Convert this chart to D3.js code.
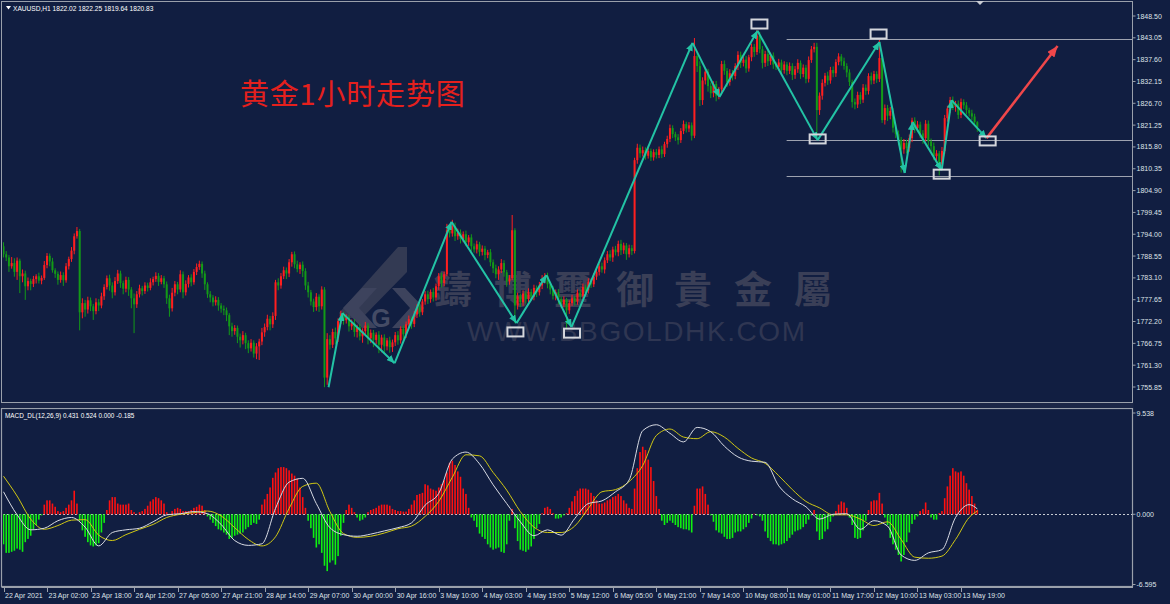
<!DOCTYPE html>
<html><head><meta charset="utf-8">
<script src="https://cdn.jsdelivr.net/npm/d3@7"></script>
<style>body{margin:0;background:#111e41;}svg{display:block}</style>
</head><body><svg id="c" width="1170" height="604"></svg>
<script>
// ---------- DATA ----------
const symbolHeader = "XAUUSD,H1  1822.02 1822.25 1819.64 1820.83";
const macdHeader = "MACD_DL(12,26,9) 0.431 0.524 0.000 -0.185";
const titleText = "黄金1小时走势图";
const firstOpen = 1791.0;
const closes = [
1789.0,1788.2,1786.0,1786.8,1784.6,1787.4,1783.5,1784.2,1781.0,1782.3,1781.6,1782.8,1783.5,1782.4,1783.1,1786.3,1788.6,1787.2,1785.0,1784.1,
1782.6,1783.8,1782.5,1786.0,1787.8,1789.9,1793.5,1794.8,1774.5,1776.8,1775.2,1777.5,1776.0,1774.8,1777.0,1776.2,1778.5,1780.8,1783.0,1781.2,
1779.5,1782.3,1784.2,1781.8,1780.4,1782.6,1780.2,1778.0,1776.5,1779.0,1780.5,1779.8,1781.2,1780.6,1782.0,1782.8,1783.6,1782.1,1783.0,1781.5,
1778.0,1775.5,1779.4,1781.5,1780.2,1784.0,1779.5,1781.6,1783.2,1782.0,1784.6,1785.8,1786.6,1784.2,1781.5,1779.0,1778.2,1777.0,1777.6,1776.2,
1775.4,1775.0,1773.8,1771.0,1769.8,1770.6,1768.4,1767.5,1768.8,1766.8,1765.5,1766.9,1764.2,1766.0,1767.2,1769.5,1770.8,1772.9,1771.5,1773.6,
1782.0,1781.2,1783.5,1785.0,1784.2,1787.0,1789.0,1786.5,1785.3,1786.4,1784.8,1781.2,1779.5,1777.2,1775.8,1778.4,1776.0,1780.2,1758.2,1767.8,
1766.4,1769.6,1768.0,1772.3,1774.0,1772.5,1773.2,1771.0,1771.8,1769.6,1770.8,1768.5,1769.8,1771.2,1768.0,1769.4,1767.6,1768.9,1766.4,1768.2,
1766.0,1767.5,1765.8,1767.0,1768.8,1767.5,1770.4,1769.0,1771.5,1772.8,1771.6,1774.0,1775.8,1774.5,1777.2,1779.0,1777.8,1779.6,1778.2,1781.0,
1783.5,1781.8,1784.0,1795.0,1794.2,1796.0,1793.5,1794.4,1792.8,1794.0,1792.0,1793.2,1791.0,1790.2,1791.5,1789.6,1790.4,1788.8,1789.5,1787.0,
1785.5,1784.0,1785.2,1786.8,1784.5,1782.2,1783.0,1795.0,1776.2,1778.5,1777.0,1779.2,1777.8,1779.6,1778.4,1780.6,1779.5,1781.2,1782.8,1783.6,
1781.5,1780.2,1778.6,1779.5,1777.8,1776.5,1777.6,1775.0,1776.8,1778.0,1777.2,1779.4,1778.6,1780.8,1780.0,1782.2,1781.5,1783.4,1784.6,1786.0,
1785.2,1787.5,1789.0,1788.2,1790.2,1789.5,1791.6,1790.0,1791.2,1789.0,1790.5,1789.8,1812.5,1815.6,1814.2,1815.0,1813.6,1814.8,1813.2,1814.5,
1813.8,1815.2,1814.0,1816.5,1817.8,1820.5,1819.0,1818.2,1817.5,1819.8,1821.5,1820.4,1821.2,1818.6,1838.5,1836.0,1827.5,1832.4,1834.6,1831.0,
1829.2,1831.5,1828.6,1830.2,1836.5,1834.8,1832.0,1834.2,1833.5,1836.0,1838.8,1836.8,1837.6,1835.4,1838.2,1840.8,1839.5,1843.6,1840.2,1836.8,
1839.0,1837.2,1838.6,1836.4,1835.8,1836.9,1835.0,1836.4,1834.8,1836.0,1833.8,1835.2,1836.8,1834.0,1835.6,1832.8,1837.5,1840.2,1840.8,1825.0,
1828.6,1831.8,1833.6,1832.4,1835.0,1834.2,1837.0,1838.4,1837.2,1836.0,1834.4,1832.0,1827.0,1826.4,1828.8,1827.6,1830.6,1829.8,1833.5,1832.4,
1834.0,1832.8,1838.0,1822.5,1825.5,1823.6,1824.8,1820.6,1819.0,1817.6,1815.2,1816.8,1815.5,1818.0,1822.4,1820.5,1821.4,1819.2,1818.0,1821.6,
1817.2,1816.0,1813.5,1814.2,1811.5,1814.8,1823.0,1825.4,1827.5,1825.8,1826.6,1823.8,1827.0,1826.2,1825.0,1824.2,1823.4,1822.0,1820.8];
const wickHi = [
1.0,0.8,0.6,1.5,1.2,0.8,0.5,1.0,0.7,0.9,0.6,0.8,0.5,0.9,0.6,1.0,0.7,0.6,0.9,0.5,
0.6,0.9,0.7,0.8,0.6,0.9,0.7,1.0,0.5,1.2,0.8,0.9,0.7,0.6,1.0,0.8,0.9,0.7,0.7,0.9,
0.8,1.0,0.9,0.7,0.6,0.8,0.7,0.6,1.2,0.8,0.9,0.6,0.8,0.7,1.0,0.6,0.9,0.7,0.8,0.6,
0.7,0.9,1.2,0.8,0.6,1.0,0.7,0.9,0.6,0.8,0.7,0.9,0.8,0.6,0.7,0.5,0.8,0.6,0.9,0.7,
0.6,0.8,0.7,0.5,0.9,0.7,0.6,0.8,1.0,0.6,0.7,0.9,0.6,0.8,0.7,1.1,0.9,1.0,0.7,0.9,
0.6,1.0,0.8,0.9,0.7,0.8,0.6,0.7,0.9,0.6,0.8,0.7,0.9,0.6,0.7,0.9,0.6,0.8,0.6,1.5,
1.0,0.8,1.1,0.7,0.9,0.6,0.8,0.7,0.9,1.0,0.6,0.8,0.7,0.9,0.6,0.8,0.7,0.6,0.9,0.7,
0.8,0.6,0.9,0.7,0.8,1.0,0.6,0.8,0.7,0.9,0.6,0.8,0.7,1.0,0.6,0.8,0.9,0.6,1.0,0.7,
0.8,0.9,0.7,1.6,1.2,1.6,0.9,1.0,0.8,0.7,0.9,0.6,0.8,0.7,0.9,0.6,0.8,0.7,0.6,0.8,
0.7,0.9,0.8,1.0,0.7,0.6,0.8,3.8,0.5,0.9,0.7,0.8,0.6,0.9,0.7,0.8,0.6,0.9,1.0,0.7,
0.8,0.6,0.9,0.7,0.8,0.6,0.9,0.5,0.7,0.9,0.6,0.8,0.7,0.9,0.6,0.8,0.7,0.9,0.8,0.7,
0.9,0.7,0.8,1.0,0.7,0.9,0.8,1.0,0.7,0.6,0.9,0.8,0.6,1.0,0.8,0.9,0.7,0.8,0.6,0.7,
0.8,0.7,0.9,0.6,0.8,0.9,0.7,0.6,0.8,0.7,0.9,0.6,0.8,0.7,4.5,1.0,1.2,0.8,0.9,0.7,
0.9,0.7,0.8,0.6,0.8,0.9,0.7,1.0,0.8,0.7,0.9,0.8,0.7,0.9,0.6,0.8,0.7,1.4,0.9,0.8,
0.8,0.9,0.7,0.8,0.6,0.9,0.7,0.8,0.6,0.9,0.7,0.8,0.9,0.6,0.8,0.7,0.9,0.8,1.0,1.0,
0.8,0.9,0.7,1.0,0.8,0.9,0.7,0.8,0.6,0.9,0.7,0.8,0.6,0.9,0.8,0.7,0.9,0.8,0.7,0.9,
0.8,0.7,4.5,0.6,0.9,0.8,1.0,0.7,0.8,0.9,0.7,1.0,0.8,0.9,0.7,0.8,0.9,0.7,0.8,0.9,
0.8,0.7,0.9,0.8,0.6,1.0,0.8,0.7,0.8,0.9,0.7,0.8,0.9,0.7,0.8,0.6,0.9,0.7,0.25];
const wickLo = [
0.8,0.9,1.4,0.6,1.2,2.0,4.2,1.5,3.4,1.0,1.6,0.8,1.1,0.7,0.9,0.5,0.8,1.2,0.6,1.0,
1.2,0.7,1.4,0.6,0.8,0.7,0.9,0.6,4.5,1.5,1.8,1.0,1.2,2.2,0.8,1.4,0.7,0.9,0.6,1.3,
1.5,0.8,0.7,1.2,1.4,0.9,1.6,2.5,7.2,0.9,0.8,1.1,0.7,0.9,0.6,0.8,0.7,1.0,0.6,0.9,
1.4,2.1,0.8,0.9,1.2,0.7,1.5,0.8,0.9,1.0,0.6,0.8,0.7,1.1,1.4,0.9,1.2,1.0,0.8,1.3,
1.0,1.2,1.5,2.2,1.4,0.9,1.6,1.8,1.0,1.5,1.2,0.8,1.0,1.4,3.4,0.9,1.1,0.8,1.5,0.9,
1.0,1.2,0.8,0.7,1.4,0.9,1.1,1.0,0.8,1.2,1.5,1.1,1.3,1.0,1.2,0.9,1.4,0.8,2.4,1.8,
1.2,0.8,1.5,0.9,0.7,1.1,0.8,1.3,0.9,1.2,1.4,1.0,1.6,0.8,1.5,1.2,1.8,1.0,2.1,1.9,
1.6,1.0,1.4,1.2,0.9,1.1,0.8,1.3,0.9,0.7,1.2,0.8,0.9,1.1,0.7,0.8,1.2,0.9,1.0,0.8,
0.9,1.1,0.8,0.5,1.0,0.8,1.2,0.9,1.1,0.8,1.0,0.9,1.2,0.8,1.0,1.1,0.9,1.3,0.8,1.0,
1.2,1.0,1.4,0.9,1.1,1.3,0.8,0.5,4.4,1.0,1.2,0.9,1.1,0.8,1.0,0.9,1.2,0.8,0.9,1.1,
1.0,1.2,0.9,1.1,1.3,1.0,0.8,4.4,0.9,0.7,1.0,0.8,0.9,0.7,1.0,0.8,0.9,0.7,0.8,0.9,
0.8,1.0,0.7,0.9,1.1,0.8,1.0,1.2,0.9,1.4,0.8,1.0,0.6,0.9,1.1,0.8,1.0,0.7,0.9,0.8,
0.9,0.8,1.0,0.7,0.9,0.8,1.0,0.9,1.1,0.7,0.8,1.0,0.9,1.2,0.6,1.5,1.5,1.2,1.0,1.4,
1.2,1.0,1.4,0.9,0.8,1.0,1.2,0.9,1.1,0.8,1.0,1.3,0.9,1.1,0.8,1.0,1.2,0.7,1.0,1.4,
1.0,1.2,0.9,1.1,0.8,1.0,1.2,0.9,1.1,0.8,1.3,1.0,0.9,1.2,0.8,1.1,0.9,0.7,0.8,6.7,
1.2,1.0,0.9,1.1,0.8,1.0,0.9,0.8,1.1,0.9,1.2,1.0,1.4,1.2,0.9,1.1,0.8,1.0,0.9,1.0,
0.9,1.0,0.8,0.7,1.1,1.3,0.9,1.2,1.0,1.4,5.8,1.1,1.3,0.9,1.0,1.2,0.8,1.1,1.4,0.9,
1.1,1.3,1.0,1.2,2.8,1.0,0.8,0.9,1.1,0.8,1.2,1.0,0.8,0.9,1.1,0.8,0.9,1.0,1.2];
const macdHist = [
-2.8,-3.6,-3.6,-3.5,-3.4,-3.2,-3.3,-3.5,-2.6,-2.3,-2.0,-1.4,-1.0,-0.5,-0.1,0.9,1.3,1.3,1.0,0.7,
0.3,0.2,0.3,0.6,0.9,1.3,2.2,1.0,-0.6,-1.5,-2.1,-2.6,-2.9,-3.0,-2.9,-2.7,-1.7,-0.8,0.4,1.3,
1.6,1.6,1.0,0.9,0.9,0.9,1.0,0.4,0.2,0.05,0.2,0.3,0.5,0.8,1.2,1.4,1.6,1.5,1.3,1.0,
0.2,0.05,0.3,0.5,0.6,0.5,0.3,0.3,0.3,0.4,0.6,0.7,0.9,0.8,0.4,-0.2,-0.5,-0.8,-1.1,-1.4,
-1.5,-1.7,-1.9,-2.3,-2.2,-2.0,-1.9,-1.8,-1.7,-1.4,-1.2,-1.0,-0.8,-0.9,-0.5,0.9,1.4,1.9,2.5,3.4,
3.9,4.3,4.4,4.4,4.3,4.1,3.8,3.6,3.3,2.5,1.6,0.6,-0.6,-1.3,-2.2,-3.1,-2.8,-3.6,-4.8,-5.3,
-4.5,-4.3,-4.7,-3.9,-2.0,-0.8,0.4,0.9,0.6,0.2,-0.3,-0.6,-0.5,-0.3,0.2,0.4,0.5,0.6,0.8,0.9,
0.9,0.9,0.8,0.5,0.4,0.3,0.3,0.25,0.25,0.5,0.9,1.3,1.8,1.9,2.0,2.8,2.7,2.4,2.3,2.2,
2.5,2.8,3.2,3.9,4.8,5.0,4.6,4.0,3.5,2.4,1.9,0.6,-0.3,-0.6,-1.2,-1.8,-2.1,-2.3,-2.8,-3.1,
-3.3,-3.2,-3.1,-3.5,-3.6,-2.8,-0.6,0.5,-1.3,-2.5,-3.3,-3.4,-3.5,-3.3,-3.0,-2.3,-1.3,-0.9,0.1,0.6,
0.7,0.5,0.1,-0.4,-0.4,-0.3,-0.1,0.1,0.6,1.2,1.7,2.2,2.4,2.4,2.4,2.3,2.0,1.7,1.3,1.0,
1.0,1.1,1.3,1.4,1.6,1.7,1.9,1.7,1.3,1.0,0.6,0.5,2.4,4.3,5.8,6.3,6.0,5.1,4.4,3.1,
1.7,0.5,-0.6,-1.0,-0.8,-0.6,-0.8,-1.0,-1.2,-1.3,-1.4,-1.4,-1.5,-1.7,0.8,2.4,2.4,2.6,1.9,0.9,
-0.1,-0.7,-1.5,-1.7,-1.8,-2.1,-2.3,-2.3,-2.2,-1.7,-1.6,-1.6,-1.4,-1.2,-0.8,-0.4,0.05,-0.1,-0.2,-0.6,
-1.6,-2.2,-2.5,-2.8,-2.8,-2.9,-2.8,-2.7,-2.5,-2.2,-1.9,-1.6,-1.5,-1.4,-1.2,-0.9,-0.5,-0.1,0.4,-1.6,
-2.4,-2.3,-1.6,-1.4,-0.7,-0.2,0.3,0.9,1.2,1.1,0.6,-0.3,-1.0,-2.2,-2.3,-2.2,-1.5,-0.6,0.4,1.2,
1.3,1.3,2.0,1.0,-0.3,-1.0,-2.2,-2.8,-3.3,-3.8,-4.4,-3.8,-2.6,-1.7,-0.9,-0.5,-0.2,0.3,0.5,1.1,
0.4,-0.3,-0.5,-0.5,0.1,0.3,1.5,2.6,3.6,4.3,4.0,3.9,4.0,3.6,2.9,2.3,1.7,1.0,0.4];
const lineBars = [0,5,10,15,20,25,30,35,40,45,50,55,60,65,70,75,80,85,90,95,100,105,110,115,120,125,130,135,140,145,150,155,160,165,170,175,180,185,190,195,200,205,210,215,220,225,230,235,240,245,250,255,260,265,270,275,280,285,290,295,300,305,310,315,320,325,330,335,340,345,350,355,358];
const macdWhite = [2.1,-0.05,-1.45,-1.3,-0.6,-0.3,-1.2,-2.95,-1.7,-1.45,-1.3,-0.7,-0.05,0.05,0.25,0.05,-0.95,-2.45,-2.9,-2.75,0.55,3.0,3.35,1.0,-1.25,-1.9,-2.05,-1.85,-1.55,-1.25,-0.8,0.85,1.95,5.15,5.8,4.7,2.75,1.0,-0.7,-2.0,-1.45,-1.95,-0.4,1.0,1.25,2.1,3.2,7.8,8.35,7.55,6.75,8.1,7.7,6.35,5.35,4.95,4.85,2.65,1.45,0.7,-0.45,0,0.05,-1.4,-0.6,-1.1,-3.8,-4.3,-3.6,-3.3,-0.3,0.9,0.5];
const macdYellow = [3.55,1.7,-0.45,-1.4,-1.05,-0.55,-0.5,-1.95,-2.45,-1.9,-1.4,-0.95,-0.3,0,0.15,0.3,-0.15,-1.25,-2.35,-2.95,-2.1,0.55,2.6,2.9,0.25,-1.8,-2.15,-2.05,-1.75,-1.35,-1.1,-0.2,1.2,3.45,5.55,5.45,3.9,2.25,0.25,-1.2,-1.7,-1.7,-1.1,0.55,2.1,2.3,3.05,4.55,7.35,7.95,7.2,7.05,7.7,7.2,6.15,5.25,4.75,3.6,2.3,1.2,0.6,-0.05,-0.05,-0.45,-1.05,-0.7,-2.35,-4.0,-4.1,-3.9,-2.35,-0.3,0.3];
const zzBar = [119.5,124.6,143.8,164.7,188.6,199.6,208.8,253.3,263.2,277.2,299.3,322,331.3,334.2,344.9,348.5,361.4];
const zzPrice = [1755.8,1774.3,1761.8,1797.1,1771.8,1783.8,1770.8,1841.8,1828.3,1844.8,1817.5,1842.0,1809.3,1822.0,1810.0,1827.5,1818.0];
const forecastBar = [361.4,387.5];
const forecastPrice = [1818.0,1841.0];
const boxBar = [188.2,209,277.9,299.3,321.7,344.9,361.8];
const boxPrice = [1769.6,1769.3,1846.5,1817.8,1844.0,1809.0,1817.3];
const levelPrice = [1842.8,1817.5,1808.5];
const levelStartBar = 287.9;
const priceTicks = ["1848.50","1843.05","1837.60","1832.15","1826.70","1821.25","1815.80","1810.35","1804.90","1799.45","1794.00","1788.55","1783.10","1777.65","1772.20","1766.75","1761.30","1755.85"];
const macdTicks = ["9.538","0.000","-6.595"];
const timeLabels = ["22 Apr 2021","23 Apr 02:00","23 Apr 18:00","26 Apr 12:00","27 Apr 05:00","27 Apr 21:00","28 Apr 14:00","29 Apr 07:00","30 Apr 00:00","30 Apr 16:00","3 May 10:00","4 May 03:00","4 May 19:00","5 May 12:00","6 May 05:00","6 May 21:00","7 May 14:00","10 May 08:00","11 May 01:00","11 May 17:00","12 May 10:00","13 May 03:00","13 May 19:00"];
const barsPerLabel = 16;
const wmChars = ["鑄","博","璽","御","貴","金","屬"];
const wmUrl = "WWW.BBGOLDHK.COM";

// ---------- DRAW ----------
const W = 1170, H = 604;
const BG = "#111e41", FRAME = "#9aa0ab", TXT = "#dfe2e8";
const svg = d3.select("#c");
svg.append("rect").attr("width", W).attr("height", H).attr("fill", BG);

const x = d3.scaleLinear().domain([0, 352]).range([3.5, 961]);
const y = d3.scaleLinear().domain([1755.85, 1848.5]).range([387, 16]);
const ym = d3.scaleLinear().domain([-6.595, 9.538]).range([585, 412]);
const axisRight = 1132.5;

const defs = svg.append("defs");
defs.append("clipPath").attr("id","mainClip").append("rect").attr("x",3).attr("y",3).attr("width",axisRight-3).attr("height",400);
defs.append("clipPath").attr("id","macdClip").append("rect").attr("x",3).attr("y",409).attr("width",axisRight-3).attr("height",177);
function marker(id, color, w, h){
  defs.append("marker").attr("id",id).attr("viewBox",`0 0 ${w} ${h}`).attr("refX",w).attr("refY",h/2)
    .attr("markerWidth",w).attr("markerHeight",h).attr("markerUnits","userSpaceOnUse").attr("orient","auto")
    .append("path").attr("d",`M0,0L${w},${h/2}L0,${h}Z`).attr("fill",color);
}
const TEAL = "#23c3a5", RED_ARROW = "#f0474a";
marker("arrT", TEAL, 8, 7);
marker("arrR", RED_ARROW, 11, 9);

// frames
const frame = svg.append("g").attr("fill","none").attr("stroke",FRAME);
frame.append("rect").attr("x",1.5).attr("y",1.5).attr("width",axisRight-1.5).attr("height",401);
frame.append("rect").attr("x",1.5).attr("y",408.5).attr("width",axisRight-1.5).attr("height",178).attr("stroke-width",1.2);
frame.append("line").attr("x1",axisRight).attr("x2",axisRight).attr("y1",1.5).attr("y2",588).attr("stroke-width",1);
svg.append("rect").attr("x",1).attr("y",403).attr("width",axisRight).attr("height",5).attr("fill","#1b2647");
svg.append("line").attr("x1",1.5).attr("x2",axisRight).attr("y1",587.5).attr("y2",587.5).attr("stroke",FRAME);
// shift marker
svg.append("path").attr("d","M976,1L984,1L980,5Z").attr("fill","#c9ccd4");

// header
svg.append("path").attr("d","M6,6L11,6L8.5,9.5Z").attr("fill","#fff");
svg.append("text").attr("x",13).attr("y",11).text(symbolHeader)
  .attr("font-family","Liberation Sans, Arial, sans-serif").attr("font-size",6.6).attr("fill","#ffffff");

// watermark
const main = svg.append("g").attr("clip-path","url(#mainClip)");
const wm = main.append("g");
const logo = wm.append("g").attr("fill","#3a3f57").attr("opacity",0.85);
logo.append("path").attr("d","M398,247L407,247L407,272L362,318L343,318L339,313Z");
logo.append("path").attr("d","M362,288L377,288L359,308L377,328L362,328L343,308Z").attr("fill","#454a62");
logo.append("path").attr("d","M392,288L405,288L424,308L405,328L392,328L410,308Z").attr("fill","#454a62");
logo.append("text").attr("x",381).attr("y",327).attr("text-anchor","middle").text("G")
  .attr("font-family","Liberation Sans, Arial, sans-serif").attr("font-weight","bold").attr("font-size",25).attr("fill","#4d536c");
const wmX = [453,513,573,635,693,753,813];
wm.selectAll("text.wmc").data(wmChars).join("text").attr("class","wmc")
  .attr("x",(d,i)=>wmX[i]).attr("y",303).attr("text-anchor","middle").text(d=>d)
  .attr("font-family","Noto Sans CJK TC, Noto Sans CJK SC, sans-serif").attr("font-weight",700)
  .attr("font-size",38).attr("fill","#3a3f57");
wm.append("text").attr("x",467).attr("y",341).text(wmUrl).attr("textLength",338).attr("lengthAdjust","spacing")
  .attr("font-family","Liberation Sans, Arial, sans-serif").attr("font-size",28).attr("fill","#2f3652");

// levels
main.selectAll("line.lvl").data(levelPrice).join("line").attr("class","lvl")
  .attr("x1",x(levelStartBar)).attr("x2",axisRight).attr("y1",d=>Math.round(y(d))+0.5).attr("y2",d=>Math.round(y(d))+0.5)
  .attr("stroke","#9ea3b0").attr("stroke-width",1);

// candles
const candles = closes.map((c,i)=>{
  const o = i===0 ? firstOpen : closes[i-1];
  return {i, o, c, h: Math.max(o,c)+(wickHi[i]??0.7), l: Math.min(o,c)-(wickLo[i]??0.9)};
});
const UP = "#ff1f1f", DN = "#139a17";
const cg = main.append("g");
cg.selectAll("line").data(candles).join("line")
  .attr("x1",d=>x(d.i)).attr("x2",d=>x(d.i)).attr("y1",d=>y(d.h)).attr("y2",d=>y(d.l))
  .attr("stroke",d=>d.c>=d.o?UP:DN).attr("stroke-width",1);
cg.selectAll("rect").data(candles).join("rect")
  .attr("x",d=>x(d.i)-1).attr("width",2)
  .attr("y",d=>y(Math.max(d.o,d.c))).attr("height",d=>Math.max(1,y(Math.min(d.o,d.c))-y(Math.max(d.o,d.c))))
  .attr("fill",d=>d.c>=d.o?UP:DN);

// zigzag
const zz = zzBar.map((b,i)=>({b,p:zzPrice[i]}));
const zg = main.append("g");
for(let i=0;i<zz.length-1;i++){
  zg.append("line").attr("x1",x(zz[i].b)).attr("y1",y(zz[i].p)).attr("x2",x(zz[i+1].b)).attr("y2",y(zz[i+1].p))
    .attr("stroke",TEAL).attr("stroke-width",2).attr("marker-end","url(#arrT)");
}
zg.append("line").attr("x1",x(forecastBar[0])).attr("y1",y(forecastPrice[0])).attr("x2",x(forecastBar[1])).attr("y2",y(forecastPrice[1]))
  .attr("stroke",RED_ARROW).attr("stroke-width",2.5).attr("marker-end","url(#arrR)");
// boxes
zg.selectAll("rect.bx").data(boxBar).join("rect").attr("class","bx")
  .attr("x",(d)=>x(d)-8).attr("y",(d,i)=>y(boxPrice[i])-4.5).attr("width",16).attr("height",9)
  .attr("fill","none").attr("stroke","#d4d6dc").attr("stroke-width",2);

// title
svg.append("text").attr("x",240).attr("y",105).text(titleText)
  .attr("font-family","Noto Sans CJK SC, sans-serif").attr("font-size",29).attr("letter-spacing",0.8).attr("fill","#e5201d");

// price axis
const pa = svg.append("g");
pa.selectAll("line").data(priceTicks).join("line").attr("x1",axisRight).attr("x2",axisRight+3)
  .attr("y1",d=>y(+d)).attr("y2",d=>y(+d)).attr("stroke",FRAME);
pa.selectAll("text").data(priceTicks).join("text").attr("x",axisRight+4).attr("y",d=>y(+d)+2.5).text(d=>d)
  .attr("font-family","Liberation Sans, Arial, sans-serif").attr("font-size",7).attr("fill",TXT);

// MACD panel
const mg = svg.append("g").attr("clip-path","url(#macdClip)");
mg.append("line").attr("x1",3).attr("x2",axisRight).attr("y1",Math.round(ym(0))+0.5).attr("y2",Math.round(ym(0))+0.5)
  .attr("stroke","#c9ccd4").attr("stroke-dasharray","2,2").attr("stroke-width",1);
mg.selectAll("rect").data(macdHist).join("rect")
  .attr("x",(d,i)=>x(i)-0.8).attr("width",1.6)
  .attr("y",d=>d>=0?ym(d):ym(0)).attr("height",d=>Math.abs(ym(d)-ym(0)))
  .attr("fill",d=>d>=0?"#ff1010":"#10f010");
const ln = d3.line().x((d,i)=>x(lineBars[i])).y(d=>ym(d)).curve(d3.curveMonotoneX);
mg.append("path").attr("d",ln(macdYellow)).attr("fill","none").attr("stroke","#d0c814").attr("stroke-width",1);
mg.append("path").attr("d",ln(macdWhite)).attr("fill","none").attr("stroke","#d8dbe4").attr("stroke-width",1);
svg.append("text").attr("x",5).attr("y",418).text(macdHeader)
  .attr("font-family","Liberation Sans, Arial, sans-serif").attr("font-size",6.4).attr("fill","#ffffff");
const macdTickY = [413, ym(0), 584.5];
const ma = svg.append("g");
ma.selectAll("line").data(macdTicks).join("line").attr("x1",axisRight).attr("x2",axisRight+3)
  .attr("y1",(d,i)=>macdTickY[i]).attr("y2",(d,i)=>macdTickY[i]).attr("stroke",FRAME);
ma.selectAll("text").data(macdTicks).join("text").attr("x",axisRight+4).attr("y",(d,i)=>macdTickY[i]+2.5).text(d=>d)
  .attr("font-family","Liberation Sans, Arial, sans-serif").attr("font-size",7).attr("fill",TXT);

// time axis
const ta = svg.append("g");
ta.selectAll("line").data(timeLabels).join("line")
  .attr("x1",(d,i)=>Math.round(x(i*barsPerLabel))+0.5).attr("x2",(d,i)=>Math.round(x(i*barsPerLabel))+0.5)
  .attr("y1",588).attr("y2",592).attr("stroke",FRAME);
ta.selectAll("text").data(timeLabels).join("text")
  .attr("x",(d,i)=>x(i*barsPerLabel)+1.5).attr("y",598).text(d=>d)
  .attr("font-family","Liberation Sans, Arial, sans-serif").attr("font-size",7).attr("fill",TXT);
</script></body></html>
